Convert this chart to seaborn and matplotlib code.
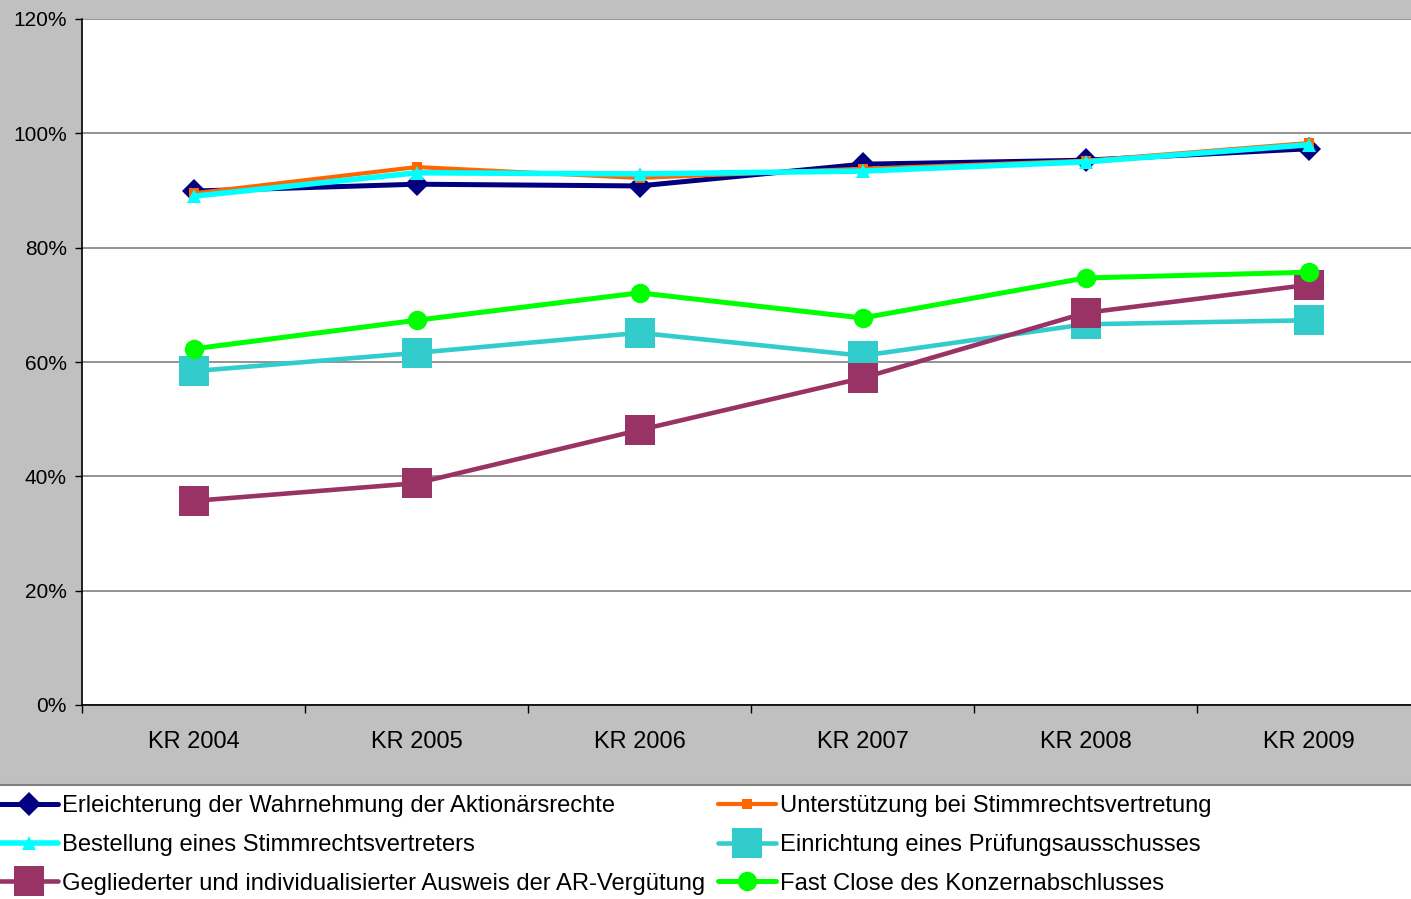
import matplotlib
matplotlib.use("Agg")
import matplotlib.pyplot as plt
import seaborn as sns
import pandas as pd
from matplotlib.patches import Rectangle
from matplotlib.lines import Line2D
from matplotlib.ticker import FixedLocator, FuncFormatter

years = ["KR 2004", "KR 2005", "KR 2006", "KR 2007", "KR 2008", "KR 2009"]

erleichterung = [89.9, 91.1, 90.8, 94.6, 95.3, 97.3]
unterstuetzung = [89.5, 94.1, 92.2, 93.8, 95.2, 98.3]
bestellung = [89.0, 93.1, 92.9, 93.4, 95.0, 98.0]
einrichtung = [58.4, 61.6, 65.1, 61.1, 66.6, 67.3]
gegliederter = [35.7, 38.8, 48.1, 57.2, 68.6, 73.5]
fast_close = [62.3, 67.3, 72.1, 67.7, 74.7, 75.7]

labels = [
    "Erleichterung der Wahrnehmung der Aktionärsrechte",
    "Unterstützung bei Stimmrechtsvertretung",
    "Bestellung eines Stimmrechtsvertreters",
    "Einrichtung eines Prüfungsausschusses",
    "Gegliederter und individualisierter Ausweis der AR-Vergütung",
    "Fast Close des Konzernabschlusses",
]
series = [erleichterung, unterstuetzung, bestellung, einrichtung, gegliederter, fast_close]
colors = ["#000080", "#FF6600", "#00FFFF", "#33CCCC", "#993366", "#00FF00"]
markers = ["D", "s", "^", "s", "s", "o"]
msizes = [12, 7, 10, 21, 21, 14]
lwidths = [3.6, 3.0, 4.0, 3.3, 3.3, 3.6]

sns.set_theme(style="white")
plt.rcParams["font.family"] = ["Liberation Sans", "DejaVu Sans"]

fig = plt.figure(figsize=(14.11, 8.99), dpi=100)
fig.patch.set_facecolor("#C0C0C0")

# legend area (white)
fig.patches.append(Rectangle((0, 0), 1, 114 / 899, transform=fig.transFigure,
                             facecolor="white", edgecolor="none", zorder=0))
fig.lines.append(Line2D([0, 1], [114 / 899, 114 / 899], transform=fig.transFigure,
                        color="#808080", lw=1.5, zorder=1))

ax = fig.add_axes([82 / 1411, (899 - 705) / 899, 1338 / 1411, (705 - 19) / 899])
ax.set_facecolor("white")

handles = []
for lab, vals, c, m, ms, lw in zip(labels, series, colors, markers, msizes, lwidths):
    df = pd.DataFrame({"Jahr": years, "Wert": vals})
    sns.lineplot(data=df, x="Jahr", y="Wert", ax=ax, color=c, marker=m,
                 markersize=ms, linewidth=lw, markeredgewidth=0, sort=False)
    handles.append(Line2D([], [], color=c, marker=m, markersize=ms, linewidth=lw,
                          markeredgewidth=0))

ax.set_xlim(-0.5, 5.5)
ax.set_ylim(0, 120)
ax.set_xlabel("")
ax.set_ylabel("")

ax.yaxis.set_major_locator(FixedLocator([0, 20, 40, 60, 80, 100, 120]))
ax.yaxis.set_major_formatter(FuncFormatter(lambda v, p: f"{int(v)}%"))
ax.grid(axis="y", color="#808080", linewidth=1.2)
ax.grid(axis="x", visible=False)
ax.set_axisbelow(True)

ax.set_xticks(range(6))
ax.set_xticklabels(years)
ax.xaxis.set_minor_locator(FixedLocator([-0.5, 0.5, 1.5, 2.5, 3.5, 4.5, 5.5]))
ax.tick_params(axis="x", which="major", length=0, pad=18.5, labelsize=17, labelcolor="black")
ax.tick_params(axis="x", which="minor", length=6, width=1, color="black", direction="out", bottom=True)
ax.tick_params(axis="y", which="major", length=5, width=1, color="black", direction="out",
               left=True, pad=6, labelsize=15, labelcolor="black")

for s in ["top", "right"]:
    ax.spines[s].set_visible(False)
for s in ["left", "bottom"]:
    ax.spines[s].set_visible(True)
    ax.spines[s].set_color("black")
    ax.spines[s].set_linewidth(1.2)

leg_kw = dict(loc="upper left", frameon=False, fontsize=17.1, handlelength=2.45,
              handletextpad=0.17, borderpad=0, borderaxespad=0, labelspacing=0.71,
              numpoints=1, labelcolor="black")
l1 = fig.legend([handles[0], handles[2], handles[4]], [labels[0], labels[2], labels[4]],
                bbox_to_anchor=(0, (899 - 795) / 899), **leg_kw)
l2 = fig.legend([handles[1], handles[3], handles[5]], [labels[1], labels[3], labels[5]],
                bbox_to_anchor=(718 / 1411, (899 - 795) / 899), **leg_kw)

fig.savefig("out.png", dpi=100, facecolor=fig.get_facecolor())
